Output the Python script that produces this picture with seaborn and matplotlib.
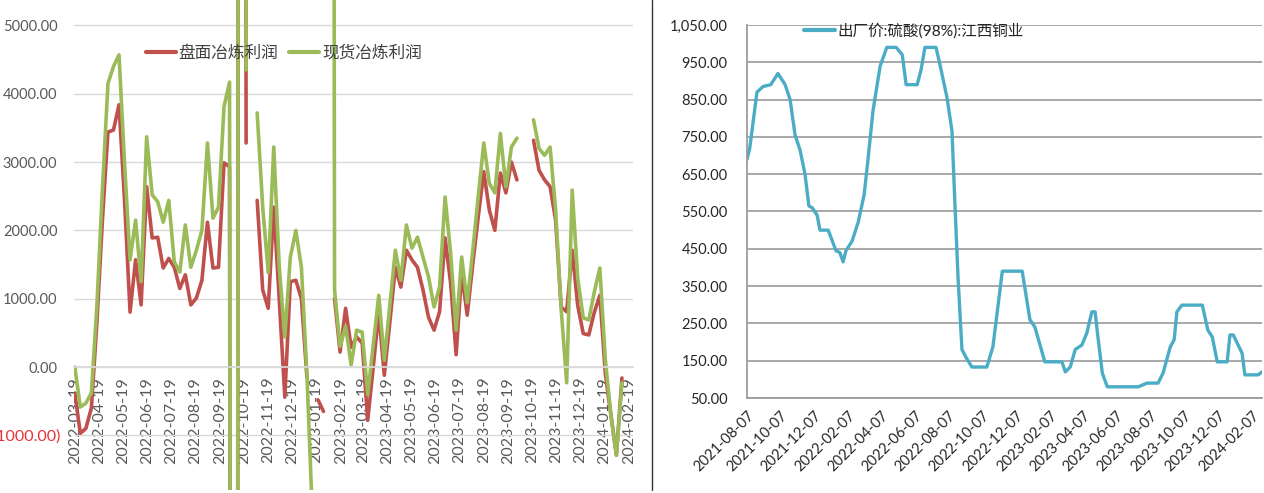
import numpy as np
import pandas as pd
import matplotlib
matplotlib.use('Agg')
import matplotlib.pyplot as plt
import matplotlib.dates as mdates
import matplotlib.transforms as mtransforms
from matplotlib.lines import Line2D
import seaborn as sns

# 左图：冶炼利润（周度，2022-03-19 起）
week_start = '2022-03-19'
futures_profit = [
    -380, -970, -900, -600, 650, 2150, 3440, 3470, 3840, 2440,
    805, 1570, 910, 2640, 1890, 1900, 1450, 1590, 1460, 1150,
    1350, 910, 1010, 1270, 2120, 1450, 1460, 2990, 2930, -60000,
    60000, 3280, np.nan, 2440, 1130, 860, 2340, 980, -440, 1250,
    1270, 1000, -150, np.nan, -480, -650, np.nan, 1000, 220, 860,
    290, 440, 350, -780, 0, 800, -120, 650, 1460, 1170,
    1710, 1570, 1460, 1130, 730, 540, 810, 1890, 1230, 180,
    1380, 760, 1500, 2200, 2860, 2300, 2000, 2840, 2550, 3000,
    2740, np.nan, np.nan, 3320, 2880, 2740, 2640, 2150, 880, 810,
    1710, 900, 490, 470, 800, 1050, -100, -700, -1290, -160,
]
spot_profit = [
    0, -585, -530, -380, 900, 2600, 4150, 4400, 4570, 2990,
    1570, 2150, 1250, 3370, 2520, 2420, 2120, 2440, 1540, 1390,
    2080, 1460, 1710, 2000, 3280, 2180, 2340, 3810, 4170, -60000,
    60000, 4350, np.nan, 3720, 2340, 1380, 3220, 1460, 440, 1610,
    2000, 1460, -100, -2200, np.nan, np.nan, 60000, 1130, 300, 600,
    30, 540, 510, -400, 320, 1050, 100, 900, 1710, 1270,
    2080, 1740, 1900, 1610, 1320, 880, 1170, 2490, 1670, 540,
    1610, 940, 1700, 2500, 3280, 2690, 2550, 3420, 2640, 3220,
    3350, np.nan, np.nan, 3620, 3200, 3100, 3220, 2300, 850, -230,
    2590, 1300, 720, 690, 1100, 1450, 100, -700, -1290, -230,
]

# 右图：硫酸出厂价
acid_dates = [
    '2021-08-07', '2021-08-12', '2021-08-25', '2021-09-05', '2021-09-19',
    '2021-10-02', '2021-10-15', '2021-10-24', '2021-11-02', '2021-11-11',
    '2021-11-20', '2021-11-27', '2021-12-03', '2021-12-12', '2021-12-17',
    '2022-01-01', '2022-01-15', '2022-01-22', '2022-01-28', '2022-02-02',
    '2022-02-13', '2022-02-24', '2022-03-07', '2022-03-14', '2022-03-23',
    '2022-04-05', '2022-04-17', '2022-05-04', '2022-05-15', '2022-05-22',
    '2022-06-11', '2022-06-18', '2022-06-25', '2022-07-15', '2022-07-22',
    '2022-08-04', '2022-08-13', '2022-08-18', '2022-08-24', '2022-08-31',
    '2022-09-07', '2022-09-18', '2022-10-15', '2022-10-26', '2022-11-04',
    '2022-11-12', '2022-12-18', '2023-01-01', '2023-01-10', '2023-01-28',
    '2023-02-28', '2023-03-06', '2023-03-15', '2023-03-24', '2023-04-05',
    '2023-04-14', '2023-04-23', '2023-04-29', '2023-05-04', '2023-05-12',
    '2023-05-21', '2023-07-16', '2023-08-01', '2023-08-21', '2023-08-30',
    '2023-09-12', '2023-09-19', '2023-09-24', '2023-10-03', '2023-11-09',
    '2023-11-19', '2023-11-27', '2023-12-06', '2023-12-24', '2023-12-29',
    '2024-01-04', '2024-01-20', '2024-01-25', '2024-02-18', '2024-02-25',
]
acid_price = [
    690, 720, 870, 885, 890,
    920, 890, 850, 755, 715,
    650, 565, 560, 540, 500,
    500, 445, 440, 415, 445,
    470, 520, 595, 690, 820,
    940, 990, 990, 970, 890,
    890, 930, 990, 990, 945,
    855, 765, 580, 370, 180,
    160, 133, 133, 187, 294,
    390, 390, 260, 240, 147,
    147, 120, 133, 180, 192,
    224, 281, 281, 214, 117,
    80, 80, 90, 90, 117,
    187, 206, 281, 299, 299,
    232, 214, 147, 147, 219,
    219, 170, 112, 112, 120,
]

RED = '#C0504D'
GREEN = '#9BBB59'
TEAL = '#4BACC6'

sns.set_theme(style='white')
plt.rcParams['font.family'] = ['Lato', 'Noto Sans CJK SC', 'DejaVu Sans']
plt.rcParams['axes.unicode_minus'] = False

fig = plt.figure(figsize=(12.64, 4.93), dpi=100)
ax1 = fig.add_axes([74 / 1264, 3 / 493, 559 / 1264, 490 / 493])
ax2 = fig.add_axes([747 / 1264, 95 / 493, 515 / 1264, 373 / 493])

# ---- 左图 ----
week_dates = pd.date_range(week_start, periods=len(spot_profit), freq='7D')
parts = []
for name, vals in [('盘面冶炼利润', futures_profit), ('现货冶炼利润', spot_profit)]:
    s = pd.Series(vals, dtype=float)
    part = pd.DataFrame({'date': week_dates, 'profit': s.values,
                         'series': name, 'seg': s.isna().cumsum().values})
    parts.append(part.dropna())
profit = pd.concat(parts, ignore_index=True)
profit['unit'] = profit['series'] + '_' + profit['seg'].astype(str)

sns.lineplot(data=profit, x='date', y='profit', hue='series', units='unit',
             estimator=None, hue_order=['盘面冶炼利润', '现货冶炼利润'],
             palette={'盘面冶炼利润': RED, '现货冶炼利润': GREEN},
             lw=2.6, ax=ax1)

ax1.set_ylim(-1800, 5373)
ax1.set_xlim(pd.Timestamp('2022-03-18'), pd.Timestamp('2024-02-24'))
yt = list(range(-1000, 5001, 1000))
ax1.set_yticks(yt)
ax1.set_yticklabels(['(1000.00)' if v < 0 else f'{v:.2f}' for v in yt])
ax1.xaxis.set_major_locator(mdates.MonthLocator(bymonthday=19))
ax1.xaxis.set_major_formatter(mdates.DateFormatter('%Y-%m-%d'))
ax1.tick_params(axis='x', length=5, color='#D9D9D9', direction='out', pad=2,
                labelsize=11.5, labelcolor='#595959', labelrotation=90)
ax1.tick_params(axis='y', length=0, pad=12, labelsize=10.5)
for lab in ax1.get_yticklabels():
    if lab.get_text().startswith('('):
        lab.set_color('#E8303A')
        lab.set_fontsize(11.5)
        # 负值标签较宽，左端被图边裁掉
        lab.set_transform(lab.get_transform() +
                          mtransforms.ScaledTranslation(3 / 100, 0, fig.dpi_scale_trans))
    else:
        lab.set_color('#595959')
ax1.grid(True, axis='y', color='#D9D9D9', lw=1)
ax1.set_axisbelow(True)
for sp in ['left', 'top', 'right']:
    ax1.spines[sp].set_visible(False)
ax1.spines['bottom'].set_position(('data', 0))
ax1.spines['bottom'].set_color('#D9D9D9')
ax1.set_xlabel('')
ax1.set_ylabel('')
h, l = ax1.get_legend_handles_labels()
leg1 = ax1.legend(h, l, loc='center', bbox_to_anchor=(0.375, 0.892), ncol=2,
                  frameon=False, fontsize=12, handlelength=1.8,
                  handletextpad=0.15, columnspacing=0.7)
for hl in leg1.get_lines():
    hl.set_linewidth(3)
for t in leg1.get_texts():
    t.set_color('#404040')

# ---- 右图 ----
sns.lineplot(x=pd.to_datetime(acid_dates), y=acid_price, color=TEAL, lw=2.4,
             ax=ax2, label='出厂价:硫酸(98%):江西铜业')
ax2.set_xlim(pd.Timestamp('2021-08-07'), pd.Timestamp('2024-02-25'))
ax2.set_ylim(50, 1050)
ax2.set_yticks(range(50, 1051, 100))
ax2.yaxis.set_major_formatter(matplotlib.ticker.StrMethodFormatter('{x:,.2f}'))
ax2.xaxis.set_major_locator(mdates.MonthLocator(bymonth=[2, 4, 6, 8, 10, 12], bymonthday=7))
ax2.xaxis.set_major_formatter(mdates.DateFormatter('%Y-%m-%d'))
ax2.tick_params(axis='both', length=4, color='#999999', direction='out',
                labelsize=10.5, labelcolor='#262626')
ax2.tick_params(axis='y', pad=10)
plt.setp(ax2.get_xticklabels(), rotation=45, ha='right', rotation_mode='anchor')
ax2.grid(True, axis='y', color='#999999', lw=1.2)
ax2.set_axisbelow(True)
for sp in ['top', 'right']:
    ax2.spines[sp].set_visible(False)
for sp in ['left', 'bottom']:
    ax2.spines[sp].set_color('#999999')
ax2.set_xlabel('')
ax2.set_ylabel('')
leg2 = ax2.legend(loc='center', bbox_to_anchor=(0.324, 0.984), frameon=False,
                  fontsize=11.2, handlelength=2.0, handletextpad=0.2)
for hl in leg2.get_lines():
    hl.set_linewidth(3)

# 分隔线
fig.add_artist(Line2D([652 / 1264, 652 / 1264], [3 / 493, 1.0], color='#333333', lw=1))

fig.savefig('out.png', dpi=100)
